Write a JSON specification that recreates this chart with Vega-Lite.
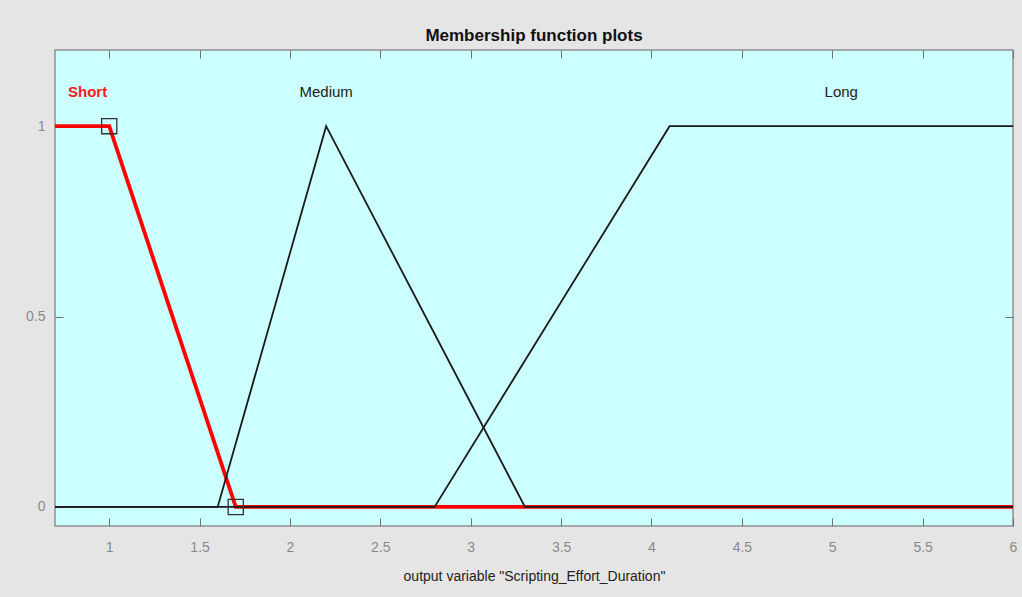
{
  "$schema": "https://vega.github.io/schema/vega-lite/v6.json",
  "width": 958,
  "height": 476,
  "autosize": {"type": "none"},
  "padding": {"left": 55, "top": 50, "right": 9, "bottom": 71},
  "background": "#e5e5e5",
  "title": {
    "text": "Membership function plots",
    "font": "Liberation Sans",
    "fontSize": 17,
    "fontWeight": "bold",
    "color": "#111111",
    "offset": 5,
    "anchor": "middle"
  },
  "config": {
    "view": {"fill": "#ccffff", "stroke": "#909090", "strokeWidth": 1.5},
    "axis": {
      "domain": false,
      "grid": false,
      "tickColor": "#707070",
      "tickSize": -8,
      "labelFont": "Liberation Sans",
      "labelFontSize": 14,
      "labelColor": "#8a8a8a",
      "titleFont": "Liberation Sans",
      "titleFontSize": 14,
      "titleFontWeight": "normal",
      "titleColor": "#222222"
    }
  },
  "datasets": {
    "short": [
      {"x": 0.7, "y": 1, "name": "Short"},
      {"x": 1.0, "y": 1, "name": "Short"},
      {"x": 1.7, "y": 0, "name": "Short"},
      {"x": 6.0, "y": 0, "name": "Short"}
    ],
    "others": [
      {"x": 0.7, "y": 0, "name": "Medium"},
      {"x": 1.6, "y": 0, "name": "Medium"},
      {"x": 2.2, "y": 1, "name": "Medium"},
      {"x": 3.3, "y": 0, "name": "Medium"},
      {"x": 6.0, "y": 0, "name": "Medium"},
      {"x": 0.7, "y": 0, "name": "Long"},
      {"x": 2.8, "y": 0, "name": "Long"},
      {"x": 4.1, "y": 1, "name": "Long"},
      {"x": 6.0, "y": 1, "name": "Long"}
    ],
    "markers": [
      {"x": 1.0, "y": 1},
      {"x": 1.7, "y": 0}
    ],
    "sellabel": [
      {"x": 0.88, "y": 1.09, "label": "Short"}
    ],
    "labels": [
      {"x": 2.2, "y": 1.09, "label": "Medium"},
      {"x": 5.05, "y": 1.09, "label": "Long"}
    ]
  },
  "resolve": {"axis": {"x": "independent", "y": "independent"}},
  "layer": [
    {
      "data": {"name": "short"},
      "mark": {"type": "line", "color": "#ff0000", "strokeWidth": 3.8, "clip": true},
      "encoding": {
        "x": {
          "field": "x", "type": "quantitative",
          "scale": {"domain": [0.7, 6], "nice": false, "zero": false},
          "axis": {"orient": "bottom", "values": [1, 1.5, 2, 2.5, 3, 3.5, 4, 4.5, 5, 5.5, 6], "format": "~g", "labelPadding": 22, "title": "output variable \"Scripting_Effort_Duration\"", "titlePadding": 15, "labelFlush": false}
        },
        "y": {
          "field": "y", "type": "quantitative",
          "scale": {"domain": [-0.05, 1.2], "nice": false, "zero": false},
          "axis": {"orient": "left", "values": [0, 0.5, 1], "format": "~g", "labelPadding": 18, "title": null}
        }
      }
    },
    {
      "data": {"name": "others"},
      "mark": {"type": "line", "color": "#1a1a1a", "strokeWidth": 1.8, "clip": true},
      "encoding": {
        "x": {
          "field": "x", "type": "quantitative",
          "scale": {"domain": [0.7, 6], "nice": false, "zero": false},
          "axis": {"orient": "top", "values": [1, 1.5, 2, 2.5, 3, 3.5, 4, 4.5, 5, 5.5, 6], "labels": false, "title": null}
        },
        "y": {
          "field": "y", "type": "quantitative",
          "scale": {"domain": [-0.05, 1.2], "nice": false, "zero": false},
          "axis": {"orient": "right", "values": [0, 0.5, 1], "labels": false, "title": null}
        },
        "detail": {"field": "name"}
      }
    },
    {
      "data": {"name": "markers"},
      "mark": {"type": "point", "shape": "square", "size": 230, "filled": false, "stroke": "#333333", "strokeWidth": 1.3, "opacity": 1},
      "encoding": {
        "x": {"field": "x", "type": "quantitative", "axis": null},
        "y": {"field": "y", "type": "quantitative", "axis": null}
      }
    },
    {
      "data": {"name": "sellabel"},
      "mark": {"type": "text", "font": "Liberation Sans", "fontSize": 15, "fontWeight": "bold", "color": "#ff1a1a", "align": "center", "baseline": "middle"},
      "encoding": {
        "x": {"field": "x", "type": "quantitative", "axis": null},
        "y": {"field": "y", "type": "quantitative", "axis": null},
        "text": {"field": "label"}
      }
    },
    {
      "data": {"name": "labels"},
      "mark": {"type": "text", "font": "Liberation Sans", "fontSize": 15, "color": "#222222", "align": "center", "baseline": "middle"},
      "encoding": {
        "x": {"field": "x", "type": "quantitative", "axis": null},
        "y": {"field": "y", "type": "quantitative", "axis": null},
        "text": {"field": "label"}
      }
    }
  ]
}
